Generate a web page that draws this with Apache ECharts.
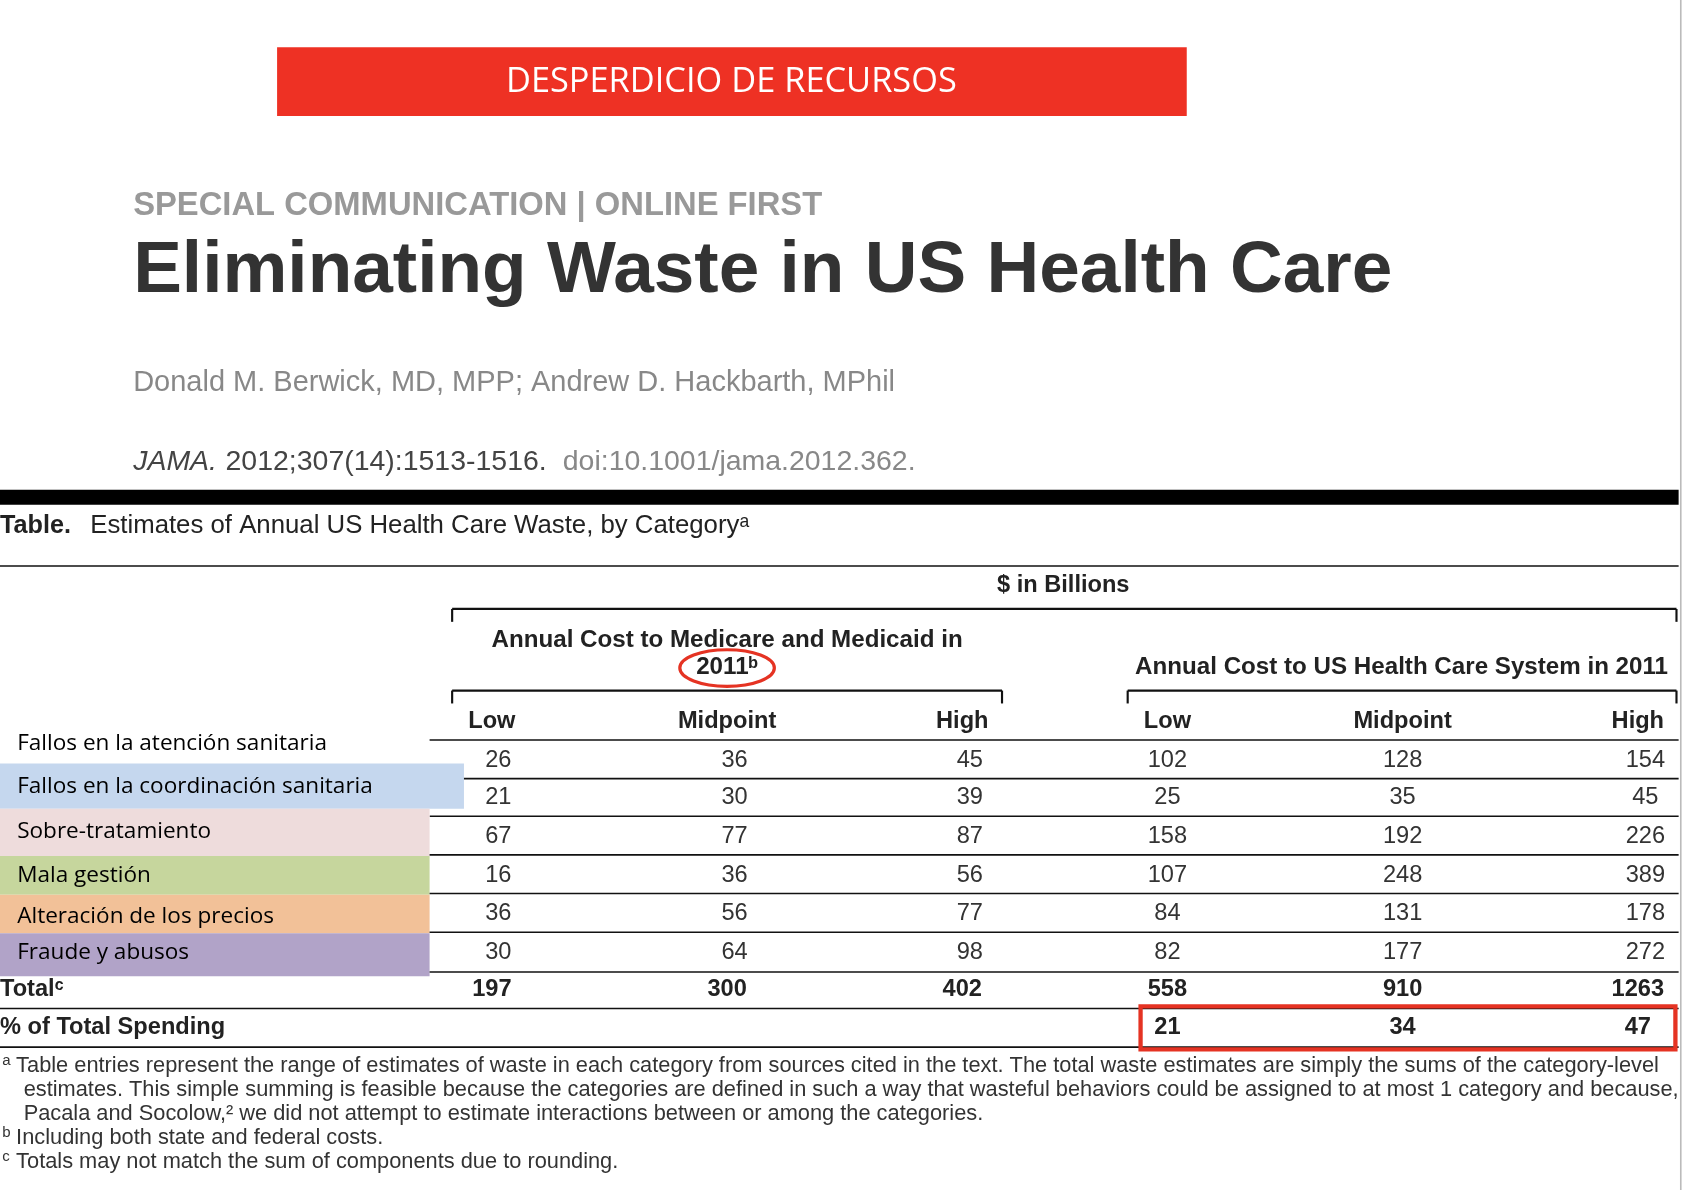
<!DOCTYPE html>
<html>
<head>
<meta charset="utf-8">
<script src="https://cdn.jsdelivr.net/npm/echarts@6/dist/echarts.min.js"></script>
<style>html,body{margin:0;padding:0;background:#fff}#main{width:1684px;height:1190px}</style>
</head>
<body>
<div id="main"></div>
<script>
// table data
var categories = ['Fallos en la atención sanitaria', 'Fallos en la coordinación sanitaria', 'Sobre-tratamiento',
  'Mala gestión', 'Alteración de los precios', 'Fraude y abusos'];
var medLow = [26, 21, 67, 16, 36, 30];
var medMid = [36, 30, 77, 36, 56, 64];
var medHigh = [45, 39, 87, 56, 77, 98];
var usLow = [102, 25, 158, 107, 84, 82];
var usMid = [128, 35, 192, 248, 131, 177];
var usHigh = [154, 45, 226, 389, 178, 272];
var totals = [197, 300, 402, 558, 910, 1263];
var pctSpending = [21, 34, 47];
var colHeaders = ['Low', 'Midpoint', 'High', 'Low', 'Midpoint', 'High'];
var catColors = [null, '#c5d7ee', '#eedcdc', '#c6d69d', '#f2c198', '#b1a3c8'];
var footnotes = [
  ['a', 'Table entries represent the range of estimates of waste in each category from sources cited in the text. The total waste estimates are simply the sums of the category-level'],
  ['', 'estimates. This simple summing is feasible because the categories are defined in such a way that wasteful behaviors could be assigned to at most 1 category and because, like'],
  ['', 'Pacala and Socolow,\u00b2 we did not attempt to estimate interactions between or among the categories.'],
  ['b', 'Including both state and federal costs.'],
  ['c', 'Totals may not match the sum of components due to rounding.']
];

var s = 1684 / 1568;
var SANS = 'Liberation Sans, Arial, sans-serif';
var g = [];
function txt(x, y, t, size, opt) {
  opt = opt || {};
  g.push({type: 'text', x: x * s, y: y * s, style: {text: t, fontSize: size * s, fontFamily: opt.font || SANS,
    fontWeight: opt.bold ? 'bold' : 'normal', fontStyle: opt.italic ? 'italic' : 'normal',
    fill: opt.color || '#222', textAlign: opt.align || 'left', textVerticalAlign: 'middle'}});
}
function rect(x, y, w, h, fill, stroke, lw) {
  g.push({type: 'rect', shape: {x: x * s, y: y * s, width: w * s, height: h * s},
    style: {fill: fill || 'none', stroke: stroke || null, lineWidth: (lw || 0) * s}});
}
function line(x1, y1, x2, y2, lw, color) {
  g.push({type: 'line', shape: {x1: x1 * s, y1: y1 * s, x2: x2 * s, y2: y2 * s},
    style: {stroke: color || '#111', lineWidth: (lw || 1.5) * s}});
}
function bracket(x1, x2, y) {
  line(x1, y, x2, y, 2); line(x1, y, x1, y + 12, 2); line(x2, y, x2, y + 12, 2);
}

// header banner
rect(258, 44, 847, 64, '#ee3124');
txt(681, 77, 'DESPERDICIO DE RECURSOS', 32, {color: '#fff', align: 'center', font: 'Open Sans, sans-serif'});
txt(124, 192, 'SPECIAL COMMUNICATION | ONLINE FIRST', 30.5, {bold: true, color: '#999'});
txt(124, 253, 'Eliminating Waste in US Health Care', 68, {bold: true, color: '#333'});
txt(124, 357, 'Donald M. Berwick, MD, MPP; Andrew D. Hackbarth, MPhil', 27, {color: '#888'});
txt(124, 430, 'JAMA.', 26.5, {italic: true, color: '#444'});
txt(210, 430, '2012;307(14):1513-1516.', 26.5, {color: '#444'});
txt(524, 430, 'doi:10.1001/jama.2012.362.', 26.5, {color: '#888'});
rect(0, 456, 1563, 14, '#000');
txt(0, 490, 'Table.', 23.5, {bold: true});
txt(84, 490, 'Estimates of Annual US Health Care Waste, by Category\u1d43', 24);
line(0, 527, 1563, 527, 1.5);

// column headings
txt(990, 545, '$ in Billions', 22, {align: 'center', bold: true});
bracket(421, 1561, 567);
txt(677, 596, 'Annual Cost to Medicare and Medicaid in', 22.5, {align: 'center', bold: true});
txt(677, 621, '2011\u1d47', 22.5, {align: 'center', bold: true});
g.push({type: 'ellipse', shape: {cx: 677 * s, cy: 622 * s, rx: 44 * s, ry: 17 * s},
  style: {fill: 'none', stroke: '#e53323', lineWidth: 3 * s}});
txt(1305, 621, 'Annual Cost to US Health Care System in 2011', 22.5, {align: 'center', bold: true});
bracket(421, 933, 643);
bracket(1050, 1561, 643);
var hx = [458, 677, 896, 1087, 1306, 1525];
var cx = [464, 684, 903, 1087, 1306, 1532];
colHeaders.forEach(function (h, i) { txt(hx[i], 672, h, 22, {align: 'center', bold: true}); });
line(400, 689, 1563, 689, 1.5);

// body rows
var rowY = [708, 743, 779, 815, 851, 887];
var labelY = [692, 732, 774, 815, 853, 887];
var bgTop = [689, 711, 753, 797, 833, 869], bgBot = [711, 753, 797, 833, 869, 909];
var cols = [medLow, medMid, medHigh, usLow, usMid, usHigh];
categories.forEach(function (c, r) {
  if (catColors[r]) rect(0, bgTop[r], r === 1 ? 432 : 400, bgBot[r] - bgTop[r], catColors[r]);
  txt(16, labelY[r], c, 21, {color: '#000', font: 'Open Sans, sans-serif'});
  cols.forEach(function (col, i) { txt(cx[i], rowY[r], String(col[r]), 22, {align: 'center', color: '#333'}); });
  if (r < 5) line(400, rowY[r] + 17, 1563, rowY[r] + 17, 1.5);
});
line(400, 905, 1563, 905, 1.5);
txt(0, 921, 'Total\u1d9c', 22, {bold: true});
totals.forEach(function (v, i) { txt(hx[i], 921, String(v), 22, {align: 'center', bold: true}); });
line(0, 939, 1563, 939, 1.5);
txt(0, 957, '% of Total Spending', 22, {bold: true});
pctSpending.forEach(function (v, i) { txt(hx[i + 3], 957, String(v), 22, {align: 'center', bold: true}); });
line(0, 975, 1563, 975, 1.5);
rect(1062, 937, 498, 40, null, '#e53323', 4);

// footnotes
footnotes.forEach(function (f, i) {
  var y = 993 + i * 22.2;
  if (f[0]) txt(2, y - 5, f[0], 14, {color: '#333'});
  txt(i < 3 && !f[0] ? 22 : 15, y, f[1], 20.3, {color: '#333'});
});
line(1565, 0, 1565, 1190 / s, 1.5, '#bbb');

var chart = echarts.init(document.getElementById('main'));
chart.setOption({animation: false, graphic: g});
</script>
</body>
</html>
